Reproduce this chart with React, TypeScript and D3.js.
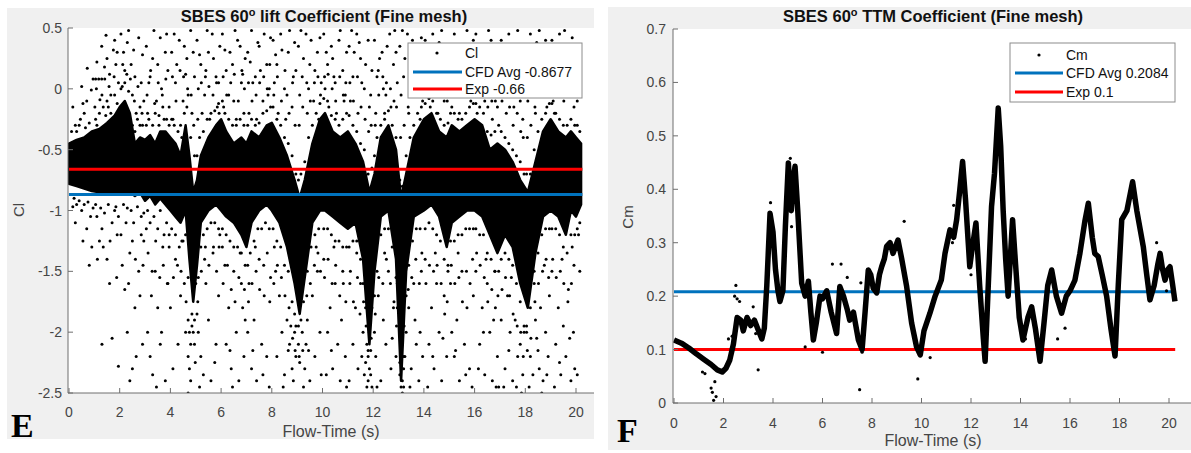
import React from "react";
import * as d3 from "d3";

// ---------- Data: left chart (lift coefficient Cl) ----------
const clTicksY = [-2.5, -2, -1.5, -1, -0.5, 0, 0.5];
const clTickLabelsY = ["-2.5", "-2", "-1.5", "-1", "-0.5", "0", "0.5"];
const timeTicks = [0, 2, 4, 6, 8, 10, 12, 14, 16, 18, 20];
const timeTickLabels = ["0", "2", "4", "6", "8", "10", "12", "14", "16", "18", "20"];
const clAvg = -0.8677;
const clExp = -0.66;
const clLineEnd = 20.25;

// dense band of Cl points: [time, upper, lower]
const clBand: [number, number, number][] = [
  [0.0, -0.45, -0.78], [0.3, -0.42, -0.8], [0.6, -0.4, -0.82], [0.9, -0.35, -0.84],
  [1.2, -0.33, -0.85], [1.5, -0.28, -0.86], [1.8, -0.22, -0.86], [2.0, -0.15, -0.86],
  [2.2, -0.1, -0.85], [2.4, -0.2, -0.85], [2.6, -0.45, -0.88], [2.8, -0.4, -0.85],
  [3.0, -0.42, -0.92], [3.2, -0.38, -0.88], [3.4, -0.45, -0.95], [3.6, -0.35, -0.9],
  [3.8, -0.35, -0.95], [4.0, -0.4, -1.0], [4.2, -0.45, -1.05], [4.4, -0.55, -1.1],
  [4.6, -0.3, -1.0], [4.75, -0.55, -1.4], [4.9, -0.85, -1.75], [5.05, -0.75, -1.45],
  [5.2, -0.55, -1.1], [5.5, -0.4, -1.0], [5.8, -0.3, -0.95], [6.0, -0.25, -1.0],
  [6.2, -0.35, -1.05], [6.5, -0.45, -1.1], [6.8, -0.4, -1.2], [7.0, -0.45, -1.3],
  [7.2, -0.35, -1.1], [7.5, -0.4, -1.0], [7.8, -0.3, -0.95], [8.0, -0.28, -1.0],
  [8.3, -0.4, -1.1], [8.6, -0.55, -1.3], [8.9, -0.75, -1.6], [9.1, -0.9, -1.85],
  [9.3, -0.75, -1.55], [9.6, -0.45, -1.1], [9.9, -0.25, -1.0], [10.1, -0.2, -1.0],
  [10.4, -0.35, -1.05], [10.7, -0.4, -1.1], [11.0, -0.35, -1.15], [11.3, -0.45, -1.1],
  [11.6, -0.6, -1.4], [11.85, -0.85, -2.1], [12.05, -0.7, -1.5], [12.3, -0.4, -1.05],
  [12.6, -0.3, -1.0], [12.9, -0.5, -1.4], [13.1, -0.9, -2.4], [13.3, -0.7, -1.5],
  [13.6, -0.4, -1.05], [14.0, -0.25, -1.0], [14.3, -0.2, -0.95], [14.6, -0.35, -1.05],
  [14.9, -0.4, -1.3], [15.1, -0.3, -1.1], [15.4, -0.35, -1.05], [15.7, -0.3, -1.0],
  [16.0, -0.25, -1.0], [16.3, -0.3, -1.05], [16.6, -0.5, -1.2], [16.9, -0.45, -1.35],
  [17.2, -0.5, -1.2], [17.5, -0.6, -1.3], [17.8, -0.75, -1.6], [18.1, -0.85, -1.8],
  [18.4, -0.6, -1.35], [18.7, -0.35, -1.05], [19.0, -0.25, -1.0], [19.3, -0.35, -1.05],
  [19.6, -0.4, -1.2], [19.8, -0.35, -1.0], [20.0, -0.4, -1.05], [20.2, -0.45, -0.95],
];

// scattered Cl points far from the band: [time, Cl]
const clScatterFar: [number, number][] = [
  [0.72,0.17],[0.95,0.08],[0.88,-0.01],[0.6,-0.2],[0.4,-0.3],[0.8,-0.28],[0.3,-0.35],[0.55,-0.12],
  [0.5,-1.0],[0.7,-1.15],[0.9,-1.3],[0.3,-0.95],[0.85,-1.05],
  [1.05,0.08],[1.17,0.08],[1.29,0.08],[1.41,0.08],[1.29,0.35],[1.46,0.44],[1.72,0.52],[1.22,-0.09],[1.02,-0.15],[1.5,0.25],[1.6,0.12],[1.8,0.4],[1.9,0.3],[1.65,-0.05],[1.85,0.2],[1.4,0.18],[1.95,0.05],[1.55,-0.15],[1.75,0.32],[1.1,0.22],
  [1.3,-2.1],[1.7,-2.05],[1.2,-1.25],[1.5,-1.4],[1.9,-1.2],[1.6,-1.6],[1.1,-1.05],[1.8,-1.0],[1.95,-2.28],
  [2.05,0.45],[2.15,0.3],[2.3,0.38],[2.45,0.2],[2.6,0.1],[2.75,0.42],[2.9,0.28],[2.2,0.15],[2.5,-0.05],[2.65,-0.2],[2.85,0.05],[2.95,-0.1],[2.35,0.48],[2.1,0.02],[2.8,-0.3],[2.55,0.32],
  [2.05,-1.2],[2.4,-1.35],[2.5,-2.3],[2.4,-2.4],[2.6,-1.8],[2.75,-1.5],[2.9,-2.1],[2.2,-1.65],[2.3,-2.0],[2.95,-1.25],[2.65,-2.2],[2.85,-1.05],
  [3.05,0.35],[3.2,0.1],[3.35,0.48],[3.5,0.2],[3.65,0.0],[3.8,0.3],[3.95,-0.15],[3.1,-0.2],[3.3,0.25],[3.45,-0.1],[3.6,0.42],[3.75,-0.25],[3.9,0.15],[3.15,0.05],[3.55,-0.3],[3.85,0.45],
  [3.1,-2.0],[3.2,-2.2],[3.3,-2.35],[3.4,-1.5],[3.5,-1.8],[3.6,-2.1],[3.7,-1.3],[3.8,-2.4],[3.9,-1.6],[3.05,-1.15],[3.25,-1.7],[3.65,-2.0],[3.95,-1.2],[3.45,-2.45],
  [4.05,0.3],[4.2,0.05],[4.35,0.4],[4.5,-0.1],[4.65,0.25],[4.8,0.48],[4.95,0.1],[4.1,-0.25],[4.25,0.2],[4.4,-0.3],[4.55,0.35],[4.7,-0.05],[4.85,-0.2],[4.15,0.45],[4.6,0.12],[4.9,0.3],
  [4.7,-1.9],[4.75,-2.0],[4.8,-2.1],[4.7,-2.2],[4.75,-2.3],[4.8,-2.4],[4.7,-2.5],[4.85,-1.95],[4.2,-1.4],[4.3,-2.1],[4.4,-1.7],[4.1,-2.3],[4.5,-1.25],[4.6,-2.0],[4.95,-2.1],[4.0,-1.8],
  [5.05,0.4],[5.2,0.2],[5.35,-0.05],[5.5,0.3],[5.65,0.45],[5.8,0.1],[5.95,0.35],[5.1,0.0],[5.25,-0.2],[5.4,0.15],[5.55,-0.25],[5.7,0.25],[5.85,-0.15],[5.15,0.28],[5.45,0.48],[5.9,0.05],
  [5.05,-1.85],[5.1,-2.0],[5.2,-2.2],[5.3,-2.35],[5.4,-1.6],[5.5,-1.9],[5.6,-2.4],[5.7,-1.3],[5.8,-2.1],[5.9,-1.7],[5.15,-2.45],[5.35,-1.4],[5.75,-2.25],[5.95,-1.2],
  [6.05,0.45],[6.2,0.15],[6.35,0.3],[6.5,-0.1],[6.65,0.4],[6.8,0.05],[6.95,0.25],[6.1,-0.15],[6.3,-0.05],[6.45,0.2],[6.6,-0.25],[6.75,0.35],[6.9,-0.2],[6.15,0.32],[6.55,0.48],[6.85,0.12],
  [6.05,-1.3],[6.2,-2.1],[6.3,-1.8],[6.4,-2.3],[6.5,-1.5],[6.6,-2.0],[6.7,-2.4],[6.8,-1.6],[6.9,-2.2],[6.15,-1.45],[6.45,-2.45],[6.75,-1.35],[6.95,-1.9],[6.35,-2.15],
  [7.05,0.3],[7.2,0.48],[7.35,0.1],[7.5,0.35],[7.65,-0.1],[7.8,0.2],[7.95,0.42],[7.1,-0.2],[7.25,0.05],[7.4,-0.25],[7.55,0.15],[7.7,0.45],[7.85,-0.05],[7.15,0.22],[7.45,0.38],[7.9,0.0],
  [7.1,-1.6],[7.2,-2.3],[7.3,-1.9],[7.4,-2.4],[7.5,-1.4],[7.6,-2.1],[7.7,-1.7],[7.8,-2.2],[7.9,-2.45],[7.05,-2.0],[7.35,-1.3],[7.65,-2.35],[7.95,-1.55],[7.25,-2.15],
  [8.05,0.4],[8.2,0.2],[8.35,0.45],[8.5,0.0],[8.65,0.3],[8.8,-0.15],[8.95,0.15],[8.1,0.05],[8.25,-0.2],[8.4,0.32],[8.55,-0.25],[8.7,0.48],[8.85,0.1],[8.15,0.28],[8.6,-0.05],[8.9,0.38],
  [8.1,-1.3],[8.2,-2.2],[8.3,-1.7],[8.4,-2.0],[8.5,-2.35],[8.6,-1.9],[8.7,-2.1],[8.8,-2.3],[8.9,-2.0],[8.95,-2.2],[8.15,-1.5],[8.45,-2.45],[8.75,-1.95],[8.85,-2.4],[8.65,-2.15],
  [9.05,0.35],[9.2,0.1],[9.35,0.45],[9.5,0.2],[9.65,-0.1],[9.8,0.3],[9.95,0.05],[9.1,-0.05],[9.25,0.25],[9.4,-0.2],[9.55,0.4],[9.7,0.15],[9.85,-0.25],[9.15,0.48],[9.45,0.0],[9.9,0.42],
  [9.05,-2.1],[9.1,-2.25],[9.2,-2.0],[9.3,-2.3],[9.35,-2.1],[9.4,-1.9],[9.5,-2.4],[9.6,-1.7],[9.7,-2.2],[9.8,-1.5],[9.9,-2.0],[9.25,-2.45],[9.45,-2.15],[9.75,-1.3],[9.95,-2.35],
  [10.05,0.45],[10.2,0.2],[10.35,0.35],[10.5,0.05],[10.65,0.4],[10.8,0.15],[10.95,0.3],[10.1,0.0],[10.25,-0.15],[10.4,0.25],[10.55,-0.2],[10.7,0.48],[10.85,-0.1],[10.15,0.3],[10.45,0.1],[10.9,-0.05],
  [10.05,-1.4],[10.2,-2.0],[10.3,-1.8],[10.4,-2.3],[10.5,-1.6],[10.6,-2.1],[10.7,-2.4],[10.8,-1.5],[10.9,-2.2],[10.15,-2.35],[10.45,-1.3],[10.75,-1.9],[10.95,-2.45],[10.35,-2.15],
  [11.05,0.35],[11.2,0.1],[11.35,0.45],[11.5,0.25],[11.65,0.0],[11.8,0.4],[11.95,0.15],[11.1,-0.1],[11.25,0.3],[11.4,-0.2],[11.55,0.05],[11.7,0.2],[11.85,-0.15],[11.15,0.48],[11.45,0.38],[11.9,-0.05],
  [11.75,-2.1],[11.8,-2.2],[11.85,-2.3],[11.8,-2.4],[11.75,-2.45],[11.9,-2.35],[11.7,-2.25],[11.85,-2.0],[11.9,-2.15],[11.95,-2.45],[11.1,-1.5],[11.2,-2.1],[11.3,-1.8],[11.4,-2.3],[11.5,-1.6],[11.6,-2.0],[11.65,-2.35],[11.05,-2.4],[11.35,-1.35],[11.55,-2.2],
  [12.05,0.4],[12.2,0.15],[12.35,0.3],[12.5,-0.05],[12.65,0.45],[12.8,0.2],[12.95,0.05],[12.1,-0.2],[12.25,0.25],[12.4,0.0],[12.55,0.35],[12.7,-0.15],[12.85,0.48],[12.15,0.1],[12.45,-0.25],[12.9,0.3],
  [12.05,-2.0],[12.1,-2.2],[12.2,-1.7],[12.3,-2.4],[12.4,-1.9],[12.5,-2.1],[12.6,-1.5],[12.7,-2.3],[12.8,-1.8],[12.9,-2.2],[12.15,-2.45],[12.45,-1.35],[12.75,-2.05],[12.95,-1.6],
  [13.1,-2.45],[13.15,-2.4],[13.2,-2.3],[13.1,-2.2],[13.15,-2.1],[13.2,-2.45],[13.05,-2.35],[13.25,-2.2],[13.15,-2.5],[13.3,-2.0],[13.4,-1.8],[13.5,-2.3],[13.6,-1.6],[13.7,-2.1],[13.8,-2.4],[13.9,-1.5],[13.95,-2.2],[13.45,-2.45],[13.65,-1.9],[13.85,-2.0],
  [13.05,0.35],[13.2,0.1],[13.35,0.45],[13.5,0.2],[13.65,0.0],[13.8,0.3],[13.95,-0.1],[13.1,-0.05],[13.25,0.25],[13.4,-0.2],[13.55,0.4],[13.7,0.15],[13.85,-0.25],[13.15,0.48],[13.45,0.05],[13.9,0.42],
  [14.05,0.4],[14.2,0.2],[14.35,0.45],[14.5,0.05],[14.65,0.3],[14.8,-0.1],[14.95,0.15],[14.1,0.0],[14.25,-0.15],[14.4,0.32],[14.55,-0.2],[14.7,0.48],[14.85,0.1],[14.15,0.25],[14.6,0.38],[14.9,-0.05],
  [14.05,-1.4],[14.2,-2.1],[14.3,-1.8],[14.4,-2.3],[14.5,-1.6],[14.6,-2.0],[14.7,-2.4],[14.8,-1.7],[14.9,-2.2],[14.15,-2.45],[14.45,-1.35],[14.75,-2.05],[14.95,-1.5],[14.35,-2.2],
  [15.05,0.3],[15.2,0.45],[15.35,0.1],[15.5,0.35],[15.65,-0.05],[15.8,0.25],[15.95,0.4],[15.1,-0.15],[15.25,0.05],[15.4,-0.2],[15.55,0.2],[15.7,0.48],[15.85,-0.1],[15.15,0.15],[15.45,0.32],[15.9,0.02],
  [15.05,-1.6],[15.2,-2.2],[15.3,-1.9],[15.4,-2.4],[15.5,-1.5],[15.6,-2.1],[15.7,-1.8],[15.8,-2.3],[15.9,-2.45],[15.1,-2.0],[15.35,-1.35],[15.65,-2.35],[15.95,-1.7],[15.25,-2.15],
  [16.05,0.45],[16.2,0.1],[16.35,0.3],[16.5,0.0],[16.65,0.4],[16.8,0.2],[16.95,0.35],[16.1,-0.2],[16.25,0.25],[16.4,-0.1],[16.55,0.48],[16.7,-0.25],[16.85,0.05],[16.15,0.32],[16.45,0.15],[16.9,-0.15],
  [16.05,-1.5],[16.2,-2.1],[16.3,-1.8],[16.4,-2.35],[16.5,-1.6],[16.6,-2.0],[16.7,-2.4],[16.8,-1.5],[16.9,-2.2],[16.95,-2.45],[16.15,-2.3],[16.45,-1.4],[16.75,-1.9],[16.85,-2.45],[16.35,-2.0],
  [17.05,0.4],[17.2,0.2],[17.35,0.45],[17.5,0.1],[17.65,0.3],[17.8,-0.1],[17.95,0.25],[17.1,0.0],[17.25,-0.2],[17.4,0.35],[17.55,-0.15],[17.7,0.48],[17.85,0.05],[17.15,0.15],[17.45,0.3],[17.9,-0.25],
  [17.05,-1.9],[17.2,-2.3],[17.3,-1.7],[17.4,-2.0],[17.5,-2.4],[17.6,-1.9],[17.7,-2.2],[17.8,-2.1],[17.9,-2.35],[17.95,-2.0],[17.15,-2.45],[17.35,-2.15],[17.65,-2.45],[17.85,-2.5],[17.45,-1.55],
  [18.05,0.35],[18.2,0.45],[18.35,0.1],[18.5,0.3],[18.65,0.0],[18.8,0.4],[18.95,0.2],[18.1,-0.1],[18.25,0.25],[18.4,-0.2],[18.55,0.48],[18.7,0.15],[18.85,-0.15],[18.15,0.05],[18.45,0.38],[18.9,-0.05],
  [18.05,-2.0],[18.2,-2.2],[18.3,-2.35],[18.4,-1.9],[18.45,-2.05],[18.5,-2.15],[18.55,-2.3],[18.6,-1.8],[18.7,-2.4],[18.8,-2.0],[18.9,-2.2],[18.95,-1.7],[18.15,-2.45],[18.35,-1.6],[18.65,-2.5],[18.75,-1.45],[18.85,-2.35],
  [19.05,0.4],[19.2,0.15],[19.35,0.45],[19.5,0.2],[19.65,0.35],[19.8,-0.05],[19.95,0.3],[19.1,-0.1],[19.25,0.3],[19.4,0.0],[19.55,0.48],[19.7,0.1],[19.85,0.42],[19.15,-0.2],[19.45,0.25],[19.9,0.05],
  [19.05,-1.5],[19.2,-2.1],[19.3,-1.8],[19.4,-2.35],[19.5,-1.95],[19.6,-2.2],[19.7,-1.65],[19.8,-2.4],[19.9,-2.0],[19.95,-2.3],[19.15,-2.45],[19.45,-1.4],[19.75,-2.05],[19.85,-1.3],[19.35,-2.25],
  [20.05,-0.1],[20.1,0.3],[20.15,-1.5],[20.05,-2.35],[20.1,-1.2],[20.15,0.1],
];

// scattered Cl points at moderate distance from the band
const clScatterMid: [number, number][] = [
  [0.15,-0.15],[0.5,0.02],[0.7,-0.1],[0.25,-1.1],[0.55,-1.25],[0.8,-1.45],
  [1.08,0.0],[1.3,-0.05],[1.58,0.02],[1.78,0.1],[1.12,-1.4],[1.35,-1.3],[1.62,-1.25],[1.88,-1.55],
  [2.12,0.2],[2.28,0.12],[2.42,0.08],[2.58,-0.1],[2.72,0.02],[2.88,-0.2],[2.1,-1.45],[2.35,-1.6],[2.5,-1.25],[2.62,-1.4],[2.8,-1.7],[2.92,-1.45],
  [3.08,-0.05],[3.22,0.15],[3.38,-0.12],[3.52,0.05],[3.68,-0.05],[3.82,0.08],[3.12,-1.35],[3.28,-1.5],[3.42,-1.25],[3.58,-1.55],[3.72,-1.45],[3.88,-1.6],
  [4.08,0.1],[4.22,-0.1],[4.38,0.15],[4.52,0.1],[4.68,0.0],[4.82,-0.05],[4.92,-0.3],[4.12,-1.55],[4.28,-1.45],[4.42,-1.5],[4.55,-1.6],[4.62,-1.75],[4.9,-2.0],[4.98,-2.25],
  [5.08,-0.25],[5.22,0.05],[5.38,0.1],[5.52,0.02],[5.68,-0.05],[5.82,0.05],[5.92,-0.2],[5.08,-1.75],[5.22,-1.5],[5.38,-1.3],[5.52,-1.45],[5.68,-1.35],[5.82,-1.5],[5.92,-1.3],
  [6.08,0.1],[6.22,-0.05],[6.38,0.05],[6.52,0.12],[6.68,-0.1],[6.82,0.15],[6.92,0.0],[6.08,-1.6],[6.25,-1.45],[6.4,-1.65],[6.55,-1.75],[6.7,-1.55],[6.85,-1.8],[6.92,-1.65],
  [7.08,0.05],[7.22,-0.1],[7.38,-0.05],[7.52,0.05],[7.68,0.1],[7.82,0.0],[7.92,0.2],[7.08,-1.75],[7.22,-1.6],[7.38,-1.5],[7.52,-1.65],[7.68,-1.45],[7.82,-1.35],[7.92,-1.75],
  [8.08,-0.05],[8.22,0.1],[8.38,-0.1],[8.52,0.15],[8.68,-0.2],[8.82,0.05],[8.92,-0.3],[8.08,-1.6],[8.22,-1.45],[8.38,-1.55],[8.52,-1.7],[8.68,-1.8],[8.82,-2.05],[8.92,-2.15],
  [9.08,-0.3],[9.22,-0.15],[9.38,0.05],[9.52,-0.1],[9.68,0.05],[9.82,0.1],[9.92,-0.05],[9.08,-2.2],[9.22,-2.15],[9.38,-1.7],[9.52,-1.6],[9.68,-1.45],[9.82,-1.35],[9.92,-1.5],
  [10.08,0.1],[10.22,0.12],[10.38,0.0],[10.52,-0.1],[10.68,0.1],[10.82,-0.05],[10.92,0.05],[10.08,-1.55],[10.22,-1.4],[10.38,-1.6],[10.52,-1.45],[10.68,-1.7],[10.82,-1.6],[10.92,-1.75],
  [11.08,0.05],[11.22,-0.1],[11.38,0.1],[11.52,-0.15],[11.68,-0.25],[11.82,-0.35],[11.92,-0.3],[11.08,-1.6],[11.22,-1.75],[11.38,-1.55],[11.48,-1.85],[11.62,-1.75],[11.72,-1.95],[11.92,-2.05],
  [12.08,-0.3],[12.22,-0.05],[12.38,0.1],[12.52,0.05],[12.68,0.0],[12.82,-0.1],[12.92,-0.15],[12.08,-1.85],[12.22,-1.55],[12.38,-1.6],[12.52,-1.4],[12.68,-1.6],[12.82,-1.75],[12.92,-1.95],
  [13.08,-0.4],[13.22,-0.3],[13.38,-0.15],[13.52,-0.05],[13.68,0.1],[13.82,0.05],[13.92,0.1],[13.08,-1.9],[13.22,-1.95],[13.38,-1.65],[13.52,-1.55],[13.68,-1.4],[13.82,-1.6],[13.92,-1.35],
  [14.08,0.1],[14.22,0.12],[14.38,0.05],[14.52,-0.05],[14.68,0.0],[14.82,0.1],[14.92,-0.1],[14.08,-1.6],[14.22,-1.45],[14.38,-1.5],[14.52,-1.45],[14.68,-1.6],[14.82,-1.85],[14.92,-1.75],
  [15.08,0.05],[15.22,-0.05],[15.38,0.0],[15.52,0.1],[15.68,0.05],[15.82,0.0],[15.92,0.12],[15.08,-1.45],[15.22,-1.6],[15.38,-1.55],[15.52,-1.75],[15.68,-1.5],[15.82,-1.6],[15.92,-1.4],
  [16.08,0.12],[16.22,0.05],[16.38,0.05],[16.52,-0.15],[16.68,-0.1],[16.82,-0.1],[16.92,0.1],[16.08,-1.35],[16.22,-1.45],[16.38,-1.55],[16.52,-1.75],[16.68,-1.65],[16.82,-1.8],[16.92,-1.7],
  [17.08,-0.1],[17.22,0.05],[17.38,-0.15],[17.52,-0.3],[17.68,-0.2],[17.82,-0.35],[17.92,-0.4],[17.08,-1.65],[17.22,-1.55],[17.38,-1.7],[17.52,-1.85],[17.68,-1.95],[17.82,-2.0],[17.92,-2.2],
  [18.08,-0.4],[18.22,-0.3],[18.38,-0.15],[18.52,-0.05],[18.68,0.05],[18.82,0.1],[18.92,0.05],[18.08,-2.15],[18.22,-2.05],[18.38,-1.75],[18.52,-1.6],[18.68,-1.5],[18.82,-1.4],[18.92,-1.55],
  [19.08,0.1],[19.22,0.0],[19.38,-0.05],[19.52,-0.1],[19.68,0.05],[19.82,0.12],[19.92,-0.15],[19.08,-1.4],[19.22,-1.55],[19.38,-1.5],[19.52,-1.6],[19.68,-1.75],[19.82,-1.6],[19.92,-1.45],
];

// scattered Cl points hugging the edges of the band
const clScatterNear: [number, number][] = [
  [0.1,-0.35],[0.25,-0.3],[0.45,-0.25],[0.65,-0.32],[0.2,-0.9],[0.4,-0.92],[0.6,-0.95],[0.75,-0.93],[0.95,-0.98],[0.15,-0.97],
  [1.05,-0.25],[1.2,-0.2],[1.35,-0.15],[1.5,-0.1],[1.65,-0.2],[1.8,-0.05],[1.9,-0.12],[1.1,-0.3],[1.45,-0.22],[1.05,-0.95],[1.25,-0.98],[1.4,-1.02],[1.55,-0.95],[1.7,-1.1],[1.85,-0.97],[1.95,-1.05],[1.3,-1.15],
  [2.05,0.0],[2.2,0.05],[2.35,-0.02],[2.5,-0.3],[2.6,-0.35],[2.7,-0.25],[2.8,-0.15],[2.9,-0.3],[2.15,-0.95],[2.3,-0.98],[2.45,-1.0],[2.55,-1.1],[2.7,-0.97],[2.85,-1.2],[2.95,-1.02],[2.25,-1.1],
  [3.05,-0.3],[3.15,-0.25],[3.3,-0.3],[3.4,-0.2],[3.55,-0.22],[3.7,-0.15],[3.85,-0.25],[3.95,-0.3],[3.1,-1.0],[3.2,-1.1],[3.35,-1.05],[3.5,-1.15],[3.6,-1.0],[3.75,-1.2],[3.85,-1.1],[3.95,-1.3],
  [4.05,-0.25],[4.15,-0.3],[4.3,-0.35],[4.45,-0.4],[4.55,-0.2],[4.65,-0.15],[4.8,-0.4],[4.95,-0.55],[4.05,-1.15],[4.2,-1.2],[4.35,-1.3],[4.45,-1.25],[4.6,-1.2],[4.7,-1.55],[4.85,-1.85],[4.95,-1.9],[5.0,-1.6],
  [5.05,-0.55],[5.15,-0.4],[5.3,-0.35],[5.45,-0.25],[5.6,-0.2],[5.75,-0.18],[5.9,-0.12],[5.1,-1.55],[5.2,-1.3],[5.3,-1.2],[5.45,-1.15],[5.6,-1.1],[5.75,-1.1],[5.9,-1.15],
  [6.05,-0.1],[6.15,-0.2],[6.3,-0.25],[6.45,-0.3],[6.6,-0.3],[6.75,-0.25],[6.9,-0.3],[6.05,-1.15],[6.2,-1.2],[6.35,-1.25],[6.5,-1.3],[6.65,-1.3],[6.8,-1.35],[6.95,-1.45],
  [7.05,-0.3],[7.2,-0.25],[7.35,-0.3],[7.5,-0.28],[7.65,-0.2],[7.8,-0.18],[7.95,-0.15],[7.05,-1.45],[7.15,-1.35],[7.3,-1.25],[7.45,-1.15],[7.6,-1.15],[7.75,-1.1],[7.9,-1.15],
  [8.05,-0.15],[8.2,-0.25],[8.35,-0.3],[8.5,-0.4],[8.65,-0.45],[8.8,-0.55],[8.95,-0.7],[8.05,-1.15],[8.2,-1.25],[8.35,-1.3],[8.5,-1.45],[8.65,-1.5],[8.8,-1.75],[8.95,-1.95],[8.9,-1.85],
  [9.05,-0.75],[9.15,-0.7],[9.3,-0.6],[9.45,-0.4],[9.6,-0.3],[9.75,-0.2],[9.9,-0.12],[9.05,-1.95],[9.15,-1.9],[9.25,-1.75],[9.4,-1.5],[9.55,-1.3],[9.7,-1.2],[9.85,-1.15],
  [10.05,-0.08],[10.2,-0.1],[10.35,-0.22],[10.5,-0.25],[10.65,-0.3],[10.8,-0.25],[10.95,-0.2],[10.05,-1.15],[10.2,-1.15],[10.35,-1.2],[10.5,-1.25],[10.65,-1.25],[10.8,-1.3],[10.95,-1.3],
  [11.05,-0.22],[11.2,-0.3],[11.35,-0.35],[11.5,-0.45],[11.65,-0.5],[11.8,-0.7],[11.95,-0.65],[11.05,-1.3],[11.2,-1.25],[11.35,-1.25],[11.5,-1.4],[11.6,-1.6],[11.7,-1.8],[11.8,-2.15],[11.95,-1.8],
  [12.05,-0.55],[12.15,-0.4],[12.3,-0.3],[12.45,-0.2],[12.6,-0.18],[12.75,-0.3],[12.9,-0.4],[12.05,-1.7],[12.15,-1.5],[12.3,-1.2],[12.45,-1.15],[12.6,-1.15],[12.75,-1.3],[12.9,-1.55],[12.95,-1.8],
  [13.05,-0.75],[13.15,-0.8],[13.3,-0.55],[13.45,-0.4],[13.6,-0.3],[13.75,-0.2],[13.9,-0.15],[13.05,-2.25],[13.2,-2.2],[13.3,-1.7],[13.4,-1.45],[13.55,-1.25],[13.7,-1.15],[13.85,-1.15],
  [14.05,-0.12],[14.2,-0.08],[14.35,-0.1],[14.5,-0.2],[14.65,-0.25],[14.8,-0.3],[14.95,-0.28],[14.05,-1.15],[14.2,-1.1],[14.35,-1.15],[14.5,-1.2],[14.65,-1.25],[14.8,-1.4],[14.95,-1.45],
  [15.05,-0.2],[15.2,-0.2],[15.35,-0.25],[15.5,-0.25],[15.65,-0.2],[15.8,-0.15],[15.95,-0.12],[15.05,-1.25],[15.2,-1.25],[15.35,-1.2],[15.5,-1.2],[15.65,-1.15],[15.8,-1.15],[15.95,-1.15],
  [16.05,-0.12],[16.2,-0.15],[16.35,-0.2],[16.5,-0.35],[16.65,-0.38],[16.8,-0.35],[16.95,-0.3],[16.05,-1.15],[16.2,-1.2],[16.35,-1.2],[16.5,-1.35],[16.65,-1.4],[16.8,-1.5],[16.95,-1.5],
  [17.05,-0.35],[17.2,-0.4],[17.35,-0.45],[17.5,-0.5],[17.65,-0.55],[17.8,-0.6],[17.95,-0.7],[17.05,-1.4],[17.2,-1.35],[17.35,-1.4],[17.5,-1.45],[17.65,-1.6],[17.8,-1.75],[17.95,-1.95],
  [18.05,-0.7],[18.2,-0.7],[18.35,-0.5],[18.5,-0.35],[18.65,-0.25],[18.8,-0.2],[18.95,-0.12],[18.05,-1.95],[18.2,-1.8],[18.35,-1.5],[18.5,-1.35],[18.65,-1.2],[18.8,-1.15],[18.95,-1.15],
  [19.05,-0.12],[19.2,-0.2],[19.35,-0.25],[19.5,-0.3],[19.65,-0.3],[19.8,-0.25],[19.95,-0.3],[19.05,-1.15],[19.2,-1.15],[19.35,-1.2],[19.5,-1.3],[19.65,-1.35],[19.8,-1.2],[19.95,-1.2],
  [20.05,-0.3],[20.15,-0.35],[20.05,-1.15],[20.15,-1.1],
];

// ---------- Data: right chart (moment coefficient Cm) ----------
const cmTicksY = [0, 0.1, 0.2, 0.3, 0.4, 0.5, 0.6, 0.7];
const cmTickLabelsY = ["0", "0.1", "0.2", "0.3", "0.4", "0.5", "0.6", "0.7"];
const cmAvg = 0.2084;
const cmExp = 0.1;
const cmLineEnd = 20.25;

const cmTime = [
  0.0, 0.3, 0.6, 0.9, 1.2, 1.5, 1.75, 1.95, 2.1, 2.25, 2.4, 2.55, 2.7, 2.8, 2.95, 3.1, 3.25, 3.4, 3.55, 3.65,
  3.75, 3.88, 4.0, 4.1, 4.2, 4.28, 4.4, 4.5, 4.62, 4.74, 4.82, 4.89, 5.0, 5.16, 5.3, 5.43, 5.53, 5.63, 5.75, 5.9,
  6.0, 6.17, 6.35, 6.57, 6.7, 6.85, 7.0, 7.1, 7.25, 7.45, 7.6, 7.72, 7.85, 7.95, 8.05, 8.19, 8.3, 8.39, 8.5, 8.59,
  8.73, 8.85, 9.05, 9.2, 9.4, 9.6, 9.8, 9.95, 10.1, 10.34, 10.55, 10.8, 10.95, 11.15, 11.3, 11.42, 11.55, 11.66, 11.78, 11.95,
  12.05, 12.2, 12.35, 12.5, 12.57, 12.68, 12.83, 12.95, 13.1, 13.2, 13.3, 13.4, 13.5, 13.6, 13.68, 13.8, 13.95, 14.1, 14.3, 14.45,
  14.6, 14.79, 14.95, 15.1, 15.26, 15.45, 15.66, 15.85, 16.0, 16.2, 16.4, 16.6, 16.74, 16.9, 17.0, 17.14, 17.3, 17.48, 17.65, 17.82,
  17.95, 18.09, 18.3, 18.53, 18.7, 18.96, 19.1, 19.23, 19.4, 19.55, 19.64, 19.74, 19.84, 19.95, 20.04, 20.15, 20.24,
];
const cmValue = [
  0.118, 0.112, 0.103, 0.092, 0.082, 0.072, 0.062, 0.058, 0.065, 0.08, 0.11, 0.16, 0.155, 0.135, 0.16, 0.145, 0.155, 0.137, 0.12, 0.14,
  0.22, 0.355, 0.32, 0.25, 0.21, 0.19, 0.21, 0.33, 0.449, 0.36, 0.42, 0.443, 0.36, 0.224, 0.2, 0.228, 0.17, 0.118, 0.15, 0.2,
  0.195, 0.21, 0.17, 0.13, 0.218, 0.2, 0.175, 0.155, 0.17, 0.118, 0.1, 0.17, 0.249, 0.24, 0.215, 0.206, 0.24, 0.255, 0.27, 0.293,
  0.3, 0.28, 0.305, 0.27, 0.218, 0.15, 0.105, 0.09, 0.135, 0.168, 0.2, 0.23, 0.28, 0.324, 0.31, 0.343, 0.4, 0.452, 0.38, 0.255,
  0.29, 0.337, 0.22, 0.12, 0.078, 0.2, 0.368, 0.43, 0.552, 0.48, 0.36, 0.27, 0.2, 0.28, 0.343, 0.26, 0.16, 0.118, 0.16, 0.18,
  0.14, 0.078, 0.15, 0.22, 0.249, 0.2, 0.168, 0.2, 0.21, 0.23, 0.28, 0.34, 0.374, 0.31, 0.28, 0.274, 0.24, 0.2, 0.14, 0.088,
  0.22, 0.343, 0.36, 0.414, 0.36, 0.293, 0.24, 0.193, 0.22, 0.26, 0.28, 0.25, 0.23, 0.25, 0.255, 0.22, 0.19,
];

const cmScatter: [number, number][] = [
  [1.15,0.058],[1.25,0.055],[1.5,0.028],[1.55,0.02],[1.6,0.005],[1.7,0.012],[1.65,0.04],[2.2,0.12],[2.35,0.125],
  [2.45,0.2],[2.55,0.195],[2.65,0.19],[2.5,0.22],[3.2,0.18],[3.4,0.062],[3.3,0.13],[3.9,0.375],[4.7,0.458],[4.75,0.33],
  [5.3,0.105],[6.0,0.095],[6.4,0.26],[6.75,0.26],[7.0,0.235],[7.5,0.025],[7.55,0.225],[7.6,0.095],[7.4,0.14],
  [9.3,0.34],[9.85,0.045],[10.35,0.085],[11.3,0.37],[11.25,0.3],[12.0,0.24],[14.2,0.12],[15.5,0.12],[15.8,0.14],
  [19.5,0.3],[19.9,0.21],
];

const FONT = "'Liberation Sans', Arial, Helvetica, sans-serif";
const AXIS = "#6e6e6e";
const TXT = "#454545";
const BLUE = "#0072bd";
const RED = "#ff0000";

export default function App() {
  const xL = d3.scaleLinear().domain([0, 20]).range([69, 576]);
  const yL = d3.scaleLinear().domain([-2.5, 0.5]).range([393, 28]);
  const xR = d3.scaleLinear().domain([0, 20]).range([674, 1169]);
  const yR = d3.scaleLinear().domain([0, 0.7]).range([403, 29]);

  const bandArea = d3
    .area<[number, number, number]>()
    .x((d) => xL(d[0]))
    .y0((d) => yL(d[2]))
    .y1((d) => yL(d[1]))
    .curve(d3.curveLinear);

  const cmPts = cmTime.map((t, i) => [t, cmValue[i]] as [number, number]);
  const cmLine = d3
    .line<[number, number]>()
    .x((d) => xR(d[0]))
    .y((d) => yR(d[1]));

  const clAll = [...clScatterFar, ...clScatterMid, ...clScatterNear];

  const L = { x0: 68, x1: 594, y0: 28, y1: 393 };
  const R = { x0: 673, x1: 1191, y0: 29, y1: 403 };

  return (
    <svg
      width={1191}
      height={453}
      style={{ position: "absolute", left: 0, top: 0, background: "#fff" }}
      fontFamily={FONT}
    >
      <defs>
        <clipPath id="clipL">
          <rect x={L.x0} y={L.y0} width={L.x1 - L.x0} height={L.y1 - L.y0} />
        </clipPath>
        <clipPath id="clipR">
          <rect x={R.x0} y={R.y0} width={R.x1 - R.x0} height={R.y1 - R.y0} />
        </clipPath>
      </defs>

      {/* ================= LEFT PANEL ================= */}
      <rect x={7} y={8} width={587} height={431} fill="#f0f0f0" />
      <rect x={L.x0} y={L.y0} width={L.x1 - L.x0} height={L.y1 - L.y0} fill="#fff" />
      <g clipPath="url(#clipL)">
        <path d={bandArea(clBand) || ""} fill="#000" stroke="#000" strokeWidth={2.5} strokeLinejoin="round" />
        {clAll.map((d, i) => (
          <circle key={i} cx={xL(d[0])} cy={yL(d[1])} r={1.5} fill="#000" />
        ))}
        <line x1={xL(0)} x2={xL(clLineEnd)} y1={yL(clExp)} y2={yL(clExp)} stroke={RED} strokeWidth={3} />
        <line x1={xL(0)} x2={xL(clLineEnd)} y1={yL(clAvg)} y2={yL(clAvg)} stroke={BLUE} strokeWidth={3} />
      </g>
      <line x1={L.x0} x2={L.x0} y1={L.y0} y2={L.y1} stroke={AXIS} />
      <line x1={L.x0} x2={L.x1} y1={L.y1} y2={L.y1} stroke={AXIS} />
      {clTicksY.map((v, i) => (
        <g key={"ly" + i}>
          <line x1={L.x0} x2={L.x0 + 5} y1={yL(v)} y2={yL(v)} stroke={AXIS} />
          <text x={L.x0 - 6} y={yL(v) + 5} textAnchor="end" fontSize={14} fill={TXT}>
            {clTickLabelsY[i]}
          </text>
        </g>
      ))}
      {timeTicks.map((t, i) => (
        <g key={"lx" + i}>
          <line x1={xL(t)} x2={xL(t)} y1={L.y1} y2={L.y1 - 5} stroke={AXIS} />
          <text x={xL(t)} y={L.y1 + 24} textAnchor="middle" fontSize={14} fill={TXT}>
            {timeTickLabels[i]}
          </text>
        </g>
      ))}
      <text x={324} y={22} textAnchor="middle" fontSize={16.5} fontWeight="bold" fill="#111">
        SBES 60<tspan dy={-6} fontSize={11}>o</tspan>
        <tspan dy={6}> lift Coefficient (Fine mesh)</tspan>
      </text>
      <text x={331} y={437} textAnchor="middle" fontSize={16} fill={TXT}>Flow-Time (s)</text>
      <text transform="translate(24,210) rotate(-90)" textAnchor="middle" fontSize={15} fill={TXT}>Cl</text>
      <text x={11} y={437} fontFamily="'Liberation Serif', 'Times New Roman', serif" fontWeight="bold" fontSize={34} fill="#000">E</text>
      <rect x={408} y={43} width={174} height={55} fill="#fff" stroke="#8c8c8c" />
      <circle cx={437} cy={53} r={1.6} fill="#000" />
      <text x={465} y={58} fontSize={14} fill="#111">Cl</text>
      <line x1={413} x2={462} y1={72} y2={72} stroke={BLUE} strokeWidth={3} />
      <text x={465} y={77} fontSize={14} fill="#111">CFD Avg -0.8677</text>
      <line x1={413} x2={462} y1={89} y2={89} stroke={RED} strokeWidth={3} />
      <text x={465} y={94} fontSize={14} fill="#111">Exp -0.66</text>

      {/* ================= RIGHT PANEL ================= */}
      <rect x={608} y={7} width={583} height={443} fill="#f0f0f0" />
      <rect x={R.x0} y={R.y0} width={R.x1 - R.x0} height={R.y1 - R.y0} fill="#fff" />
      <g clipPath="url(#clipR)">
        <line x1={xR(0)} x2={xR(cmLineEnd)} y1={yR(cmAvg)} y2={yR(cmAvg)} stroke={BLUE} strokeWidth={3} />
        <line x1={xR(0)} x2={xR(cmLineEnd)} y1={yR(cmExp)} y2={yR(cmExp)} stroke={RED} strokeWidth={3} />
        <path d={cmLine(cmPts) || ""} fill="none" stroke="#000" strokeWidth={5.5} strokeLinejoin="round" />
        {cmScatter.map((d, i) => (
          <circle key={i} cx={xR(d[0])} cy={yR(d[1])} r={1.6} fill="#000" />
        ))}
      </g>
      <line x1={R.x0} x2={R.x0} y1={R.y0} y2={R.y1} stroke={AXIS} />
      <line x1={R.x0} x2={R.x1} y1={R.y1} y2={R.y1} stroke={AXIS} />
      {cmTicksY.map((v, i) => (
        <g key={"ry" + i}>
          <line x1={R.x0} x2={R.x0 + 5} y1={yR(v)} y2={yR(v)} stroke={AXIS} />
          <text x={R.x0 - 7} y={yR(v) + 5} textAnchor="end" fontSize={14} fill={TXT}>
            {cmTickLabelsY[i]}
          </text>
        </g>
      ))}
      {timeTicks.map((t, i) => (
        <g key={"rx" + i}>
          <line x1={xR(t)} x2={xR(t)} y1={R.y1} y2={R.y1 - 5} stroke={AXIS} />
          <text x={xR(t)} y={R.y1 + 25} textAnchor="middle" fontSize={14} fill={TXT}>
            {timeTickLabels[i]}
          </text>
        </g>
      ))}
      <text x={933} y={22} textAnchor="middle" fontSize={16.5} fontWeight="bold" fill="#111">
        SBES 60<tspan dy={-6} fontSize={11}>o</tspan>
        <tspan dy={6}> TTM Coefficient (Fine mesh)</tspan>
      </text>
      <text x={933} y={446} textAnchor="middle" fontSize={16} fill={TXT}>Flow-Time (s)</text>
      <text transform="translate(633,217) rotate(-90)" textAnchor="middle" fontSize={15} fill={TXT}>Cm</text>
      <text x={617} y={442} fontFamily="'Liberation Serif', 'Times New Roman', serif" fontWeight="bold" fontSize={34} fill="#000">F</text>
      <rect x={1010} y={43} width={165} height={59} fill="#fff" stroke="#8c8c8c" />
      <circle cx={1039} cy={55} r={1.6} fill="#000" />
      <text x={1066} y={60} fontSize={14} fill="#111">Cm</text>
      <line x1={1015} x2={1063} y1={73} y2={73} stroke={BLUE} strokeWidth={3} />
      <text x={1066} y={78} fontSize={14} fill="#111">CFD Avg 0.2084</text>
      <line x1={1015} x2={1063} y1={92} y2={92} stroke={RED} strokeWidth={3} />
      <text x={1066} y={97} fontSize={14} fill="#111">Exp 0.1</text>
    </svg>
  );
}
